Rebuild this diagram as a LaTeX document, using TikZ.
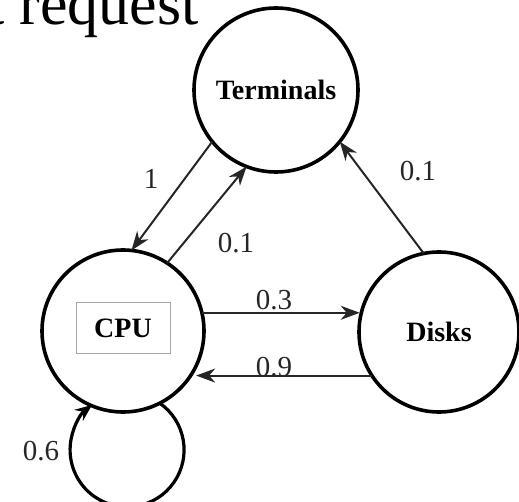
\documentclass[tikz,border=0pt]{standalone}
\usepackage{fontspec}
\setmainfont{Liberation Serif}
\usetikzlibrary{arrows.meta}
\begin{document}
\begin{tikzpicture}[x=1pt,y=1pt,
  state/.style={circle,draw=black,line width=3.6pt,inner sep=0pt,outer sep=0pt,font=\fontsize{28}{28}\selectfont\bfseries},
  conn/.style={line width=2pt,draw=black!85,-{Stealth[length=19pt,width=14pt,inset=6pt]}},
  lbl/.style={font=\fontsize{29}{29}\selectfont,inner sep=0pt,text=black!85}]
\useasboundingbox (0,0) rectangle (519,501);
\node[anchor=base east,inner sep=0pt,font=\fontsize{62}{62}\selectfont] (title) at (199,476) {t request};
\node[state,minimum size=164pt] (T) at (276,411) {Terminals};
\node[state,minimum size=162pt] (C) at (123,170) {};
\node[draw=black!35,line width=1pt,minimum width=94pt,minimum height=50pt,inner sep=0pt,font=\fontsize{28}{28}\selectfont\bfseries] (box) at (123,173) {CPU};
\node[state,minimum size=160pt] (D) at (439,169) {Disks};
\draw[conn] (T.219.6) -- (C.84);
\draw[conn] (C.57) -- (T.249.6);
\draw[conn] (D.101) -- (T.321.7);
\draw[conn,shorten >=2pt] (C.13.6) -- (C.13.6 -| D.165.5);
\draw[conn,shorten >=6pt] (D.213.4) -- (D.213.4 -| C.326.3);
\draw[line width=3.2pt,-{Stealth[length=17pt,width=14pt,inset=6pt]}] (C.-63) arc[start angle=55,end angle=-232,radius=57pt];
\node[lbl] (l1) at (151,322) {1};
\node[lbl] (l2) at (236,258) {0.1};
\node[lbl] (l3) at (418,330) {0.1};
\node[lbl] (l4) at (274,201) {0.3};
\node[lbl] (l5) at (274,134) {0.9};
\node[lbl] (l6) at (41,50) {0.6};
\end{tikzpicture}
\end{document}
